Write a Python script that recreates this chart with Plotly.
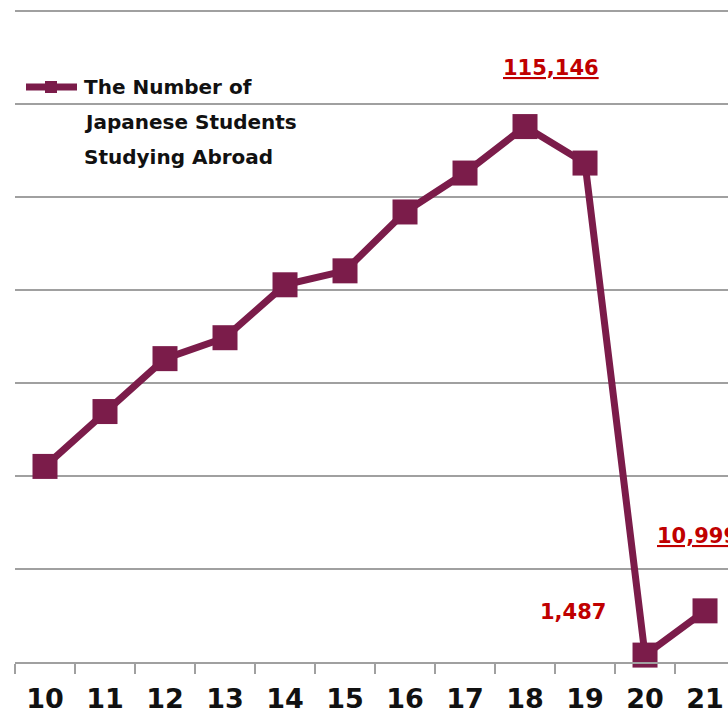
import plotly.graph_objects as go

years = ["10", "11", "12", "13", "14", "15", "16", "17", "18", "19", "20", "21"]
students = [42060, 53860, 65240, 69740, 81120, 84120, 96780, 105150, 115146, 107300, 1487, 10999]
series_name = ["The Number of", "Japanese Students", "Studying Abroad"]

W, H = 728, 714
L, R, T, B = 15, 0, 0, 52
color = "#7B1C4A"
red = "#C00000"
font = "DejaVu Sans"

fig = go.Figure()
fig.add_trace(go.Scatter(
    x=years, y=students, mode="lines+markers",
    line=dict(color=color, width=7),
    marker=dict(symbol="square", size=25, color=color),
    showlegend=False, cliponaxis=False,
))

pw = W - L - R
ph = H - T - B

def px(x):
    return (x - L) / pw

def py(y):
    return (H - B - y) / ph

# legend
fig.add_shape(type="line", xref="paper", yref="paper",
              x0=px(26), x1=px(77), y0=py(87), y1=py(87),
              line=dict(color=color, width=7))
fig.add_shape(type="rect", xref="paper", yref="paper",
              x0=px(45), x1=px(57), y0=py(81), y1=py(93),
              fillcolor=color, line=dict(width=0))
for i, t in enumerate(series_name):
    fig.add_annotation(xref="paper", yref="paper", x=px(82), y=py(87 + 35 * i),
                       text="<b>%s</b>" % t, showarrow=False, xanchor="left", yanchor="middle",
                       font=dict(family=font, size=20, color="#111111"))

labels = [(8, "<u><b>115,146</b></u>", 551, 68, "center"),
          (10, "<b>1,487</b>", 573, 612, "center"),
          (11, "<u><b>10,999</b></u>", 655, 536, "left")]
for idx, txt, x, y, anc in labels:
    fig.add_annotation(xref="paper", yref="paper", x=px(x), y=py(y), text=txt,
                       showarrow=False, xanchor=anc, yanchor="middle",
                       font=dict(family=font, size=21, color=red))

ytop = 140000 * ph / (ph - 11)

fig.update_layout(
    width=W, height=H, margin=dict(l=L, r=R, t=T, b=B),
    paper_bgcolor="white", plot_bgcolor="white",
    xaxis=dict(type="category", range=[-0.5, 11.383], showgrid=False,
               ticks="outside", tickson="boundaries", ticklen=10, tickcolor="#A0A0A0",
               tickwidth=1.5, showline=True, linecolor="#A0A0A0", linewidth=1.5,
               tickfont=dict(family=font, size=27, color="#111111"),
               tickprefix="<b>", ticksuffix="</b>", ticklabelstandoff=12),
    yaxis=dict(range=[0, ytop], tickvals=[20000 * k for k in range(8)],
               showgrid=True, gridcolor="#A0A0A0",
               gridwidth=1.5, showticklabels=False, zeroline=False, showline=False),
)
fig.write_html("out.html", config={"displayModeBar": False},
               post_script="document.body.style.margin='0';document.body.style.overflow='hidden';")
